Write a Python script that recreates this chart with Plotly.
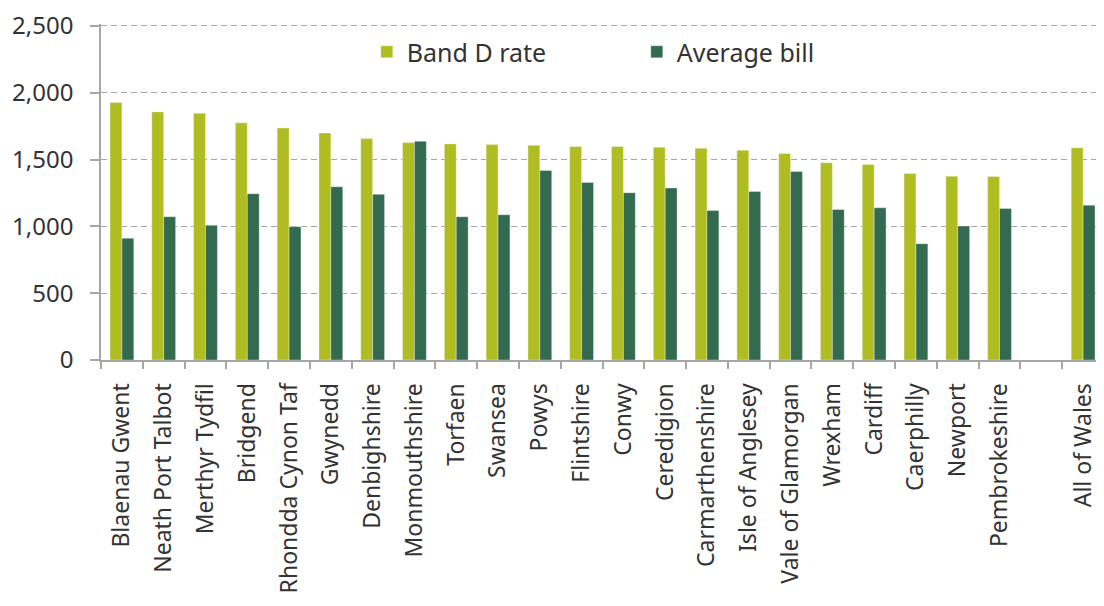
import plotly.graph_objects as go

categories = ["Blaenau Gwent", "Neath Port Talbot", "Merthyr Tydfil", "Bridgend",
              "Rhondda Cynon Taf", "Gwynedd", "Denbighshire", "Monmouthshire",
              "Torfaen", "Swansea", "Powys", "Flintshire", "Conwy", "Ceredigion",
              "Carmarthenshire", "Isle of Anglesey", "Vale of Glamorgan", "Wrexham",
              "Cardiff", "Caerphilly", "Newport", "Pembrokeshire", " ", "All of Wales"]

band_d_rate = [1928, 1857, 1847, 1775, 1736, 1699, 1657, 1627, 1617, 1612, 1607,
               1598, 1598, 1593, 1585, 1570, 1546, 1477, 1464, 1395, 1376, 1373,
               None, 1588]

average_bill = [912, 1072, 1008, 1245, 998, 1297, 1240, 1637, 1072, 1087, 1418,
                1329, 1252, 1287, 1119, 1262, 1410, 1127, 1139, 870, 1003, 1134,
                None, 1159]

y_ticks = [0, 500, 1000, 1500, 2000, 2500]
y_tick_labels = ["0", "500", "1,000", "1,500", "2,000", "2,500"]

FONT = "Noto Sans"
GRID = "#a6a6a6"
TEXT = "#333333"

fig = go.Figure()
fig.add_trace(go.Bar(
    name="Band D rate", x=categories, y=band_d_rate,
    marker=dict(color="#afbd22", line=dict(color="rgba(255,255,255,0.35)", width=1)),
))
fig.add_trace(go.Bar(
    name="Average bill", x=categories, y=average_bill,
    marker=dict(color="#336a50", line=dict(color="rgba(255,255,255,0.35)", width=1)),
))

# page body has an 8px margin, so the figure is sized/offset to compensate
fig.update_layout(
    width=1096, height=598,
    margin=dict(l=93, r=0, t=12, b=246, pad=0),
    paper_bgcolor="white", plot_bgcolor="white",
    barmode="group", bargap=0.43, bargroupgap=0,
    font=dict(family=FONT, color=TEXT),
    showlegend=True,
    legend=dict(
        orientation="h", x=0.265, xanchor="left", y=0.985, yanchor="top",
        font=dict(family=FONT, size=25, color=TEXT),
        entrywidth=225, entrywidthmode="pixels",
        bgcolor="rgba(0,0,0,0)", itemclick=False,
    ),
)

fig.update_xaxes(
    type="category", range=[-0.5, 23.5],
    showline=True, linecolor=GRID, linewidth=2,
    ticks="outside", tickson="boundaries", ticklen=7, tickcolor=GRID, tickwidth=1.5,
    tickangle=-90, tickfont=dict(family=FONT, size=23, color=TEXT),
    ticklabelstandoff=12,
    showgrid=False, zeroline=False,
)
fig.update_yaxes(
    range=[0, 2514.8], tickvals=y_ticks, ticktext=y_tick_labels,
    showline=True, linecolor=GRID, linewidth=1.5,
    ticks="outside", ticklen=9, tickcolor=GRID, tickwidth=1.5,
    tickfont=dict(family=FONT, size=24, color=TEXT),
    ticklabelstandoff=12, ticklabeloverflow="allow",
    showgrid=True, gridcolor=GRID, gridwidth=1.3, griddash="6px,4px",
    zeroline=False,
)

fig.write_html("out.html")
